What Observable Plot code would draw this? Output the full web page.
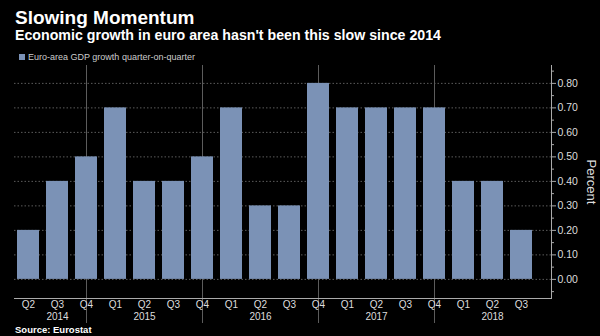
<!DOCTYPE html>
<html>
<head>
<meta charset="utf-8">
<script src="https://cdn.jsdelivr.net/npm/d3@7"></script>
<script src="https://cdn.jsdelivr.net/npm/@observablehq/plot@0.6"></script>
<style>
  html, body { margin: 0; padding: 0; background: #000; }
  #wrap { position: relative; width: 600px; height: 336px; background: #000; overflow: hidden; font-family: "Liberation Sans", Arial, sans-serif; }
  .abs { position: absolute; white-space: nowrap; line-height: 1; }
  #title { left: 15px; top: 8px; font-size: 19px; font-weight: bold; color: #fff; }
  #subtitle { left: 15px; top: 27.5px; font-size: 14.2px; font-weight: bold; color: #fff; }
  #legend { left: 19px; top: 52.5px; font-size: 9px; color: #ccc; }
  #legend .sw { display: inline-block; width: 6px; height: 6px; background: #7b92b6; margin-right: 3px; vertical-align: 0px; }
  #source { left: 15px; top: 325px; font-size: 9.5px; font-weight: bold; color: #fff; }
  #ylabel { left: 591px; top: 182px; font-size: 13px; color: #ddd; transform: translate(-50%, -50%) rotate(90deg); }
  #chart { position: absolute; left: 0; top: 60px; }
</style>
</head>
<body>
<div id="wrap">
  <div id="title" class="abs">Slowing Momentum</div>
  <div id="subtitle" class="abs">Economic growth in euro area hasn't been this slow since 2014</div>
  <div id="legend" class="abs"><span class="sw"></span>Euro-area GDP growth quarter-on-quarter</div>
  <div id="chart"></div>
  <div id="ylabel" class="abs">Percent</div>
  <div id="source" class="abs">Source: Eurostat</div>
</div>
<script>
const quarterLabels = ["Q2","Q3","Q4","Q1","Q2","Q3","Q4","Q1","Q2","Q3","Q4","Q1","Q2","Q3","Q4","Q1","Q2","Q3"];
const quarterYears  = [2014,2014,2014,2015,2015,2015,2015,2016,2016,2016,2016,2017,2017,2017,2017,2018,2018,2018];
const growth        = [0.2,0.4,0.5,0.7,0.4,0.4,0.5,0.7,0.3,0.3,0.8,0.7,0.7,0.7,0.7,0.4,0.4,0.2];
const yearLabels       = ["2014","2015","2016","2017","2018"];
const yearLabelQuarter = ["Q3","Q2","Q2","Q2","Q2"];
const yTicks     = [0,0.1,0.2,0.3,0.4,0.5,0.6,0.7,0.8];
const yMinorTicks = [-0.05,0.05,0.15,0.25,0.35,0.45,0.55,0.65,0.75,0.85];

const data = quarterLabels.map((q, i) => ({key: `${quarterYears[i]} ${q}`, q, year: quarterYears[i], value: growth[i]}));
const separators = data.filter(d => d.q === "Q4");
const years = yearLabels.map((y, i) => ({key: `${y} ${yearLabelQuarter[i]}`, text: y}));

const chart = Plot.plot({
  width: 600,
  height: 276,
  marginTop: 5,
  marginBottom: 38,
  marginLeft: 14,
  marginRight: 49,
  style: {background: "transparent", color: "#ddd", fontFamily: "Liberation Sans, Arial, sans-serif", fontSize: "10.5px", overflow: "visible"},
  x: {type: "band", domain: data.map(d => d.key), paddingInner: 0.237, paddingOuter: 0.085, align: 0.2, insetRight: 8, label: null},
  y: {domain: [-0.078, 0.873], label: null},
  marks: [
    Plot.ruleY(yTicks, {stroke: "#5c5c5c", strokeDasharray: "1.5,2"}),
    Plot.ruleX(separators, {x: "key", stroke: "#5c5c5c", insetBottom: -25}),
    Plot.barY(data, {x: "key", y: "value", fill: "#7b92b6"}),
    Plot.axisX({tickSize: 0, tickPadding: 2, tickFormat: k => k.split(" ")[1], label: null, fill: "#ddd", fontSize: 10}),
    Plot.text(years, {x: "key", text: "text", frameAnchor: "bottom", dy: 21, fill: "#ddd", fontSize: 10}),
    Plot.axisY({anchor: "right", ticks: yTicks, tickFormat: d3.format(".2f"), tickSize: 4, tickPadding: 2, label: null, stroke: "#aaa", fill: "#ddd"}),
    Plot.axisY({anchor: "right", ticks: yMinorTicks, tickFormat: () => "", tickSize: 2, label: null, stroke: "#aaa"}),
    Plot.frame({anchor: "right", stroke: "#aaa"}),
    Plot.frame({anchor: "bottom", stroke: "#aaa"})
  ]
});
document.getElementById("chart").appendChild(chart);
</script>
</body>
</html>
